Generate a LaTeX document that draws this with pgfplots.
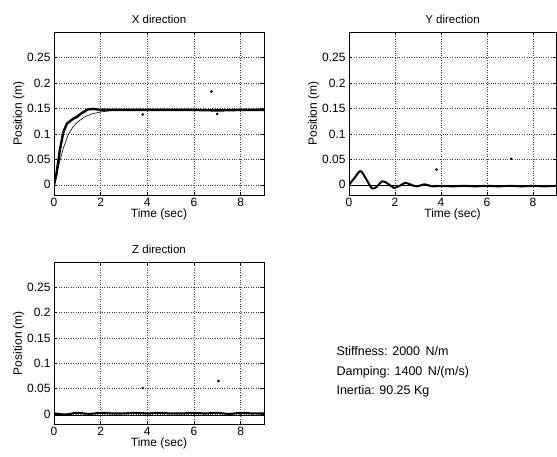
\documentclass[border=0pt]{standalone}
\usepackage{fontspec}
\setmainfont{Liberation Sans}
\usepackage{pgfplots}
\pgfplotsset{compat=1.18}

\pgfplotsset{
  posplot/.style={
    scale only axis,
    anchor=south west,
    xmin=0, xmax=9,
    ymin=-0.02, ymax=0.3,
    xtick={0,2,4,6,8},
    ytick={0,0.05,0.1,0.15,0.2,0.25},
    tick align=inside,
    major tick length=3pt,
    grid=major,
    grid style={dotted, black!75, line width=0.6pt},
    axis line style={line width=0.7pt},
    tick style={black, line width=0.5pt},
    font=\fontsize{12}{14}\selectfont,
    /pgf/number format/assume math mode=true,
    yticklabel style={/pgf/number format/fixed},
    xlabel={Time (sec)},
    ylabel={Position (m)},
    xlabel style={yshift=5pt},
    ylabel style={yshift=-4pt},
    title style={yshift=-1pt, font=\fontsize{11.5}{13}\selectfont},
    clip=true,
  },
  meas/.style={black, line width=2.4pt, line join=round},
  model/.style={black, line width=0.6pt},
  dots/.style={only marks, mark=*, mark size=1.1pt, black},
}

\begin{document}
\begin{tikzpicture}
\useasboundingbox (0pt,0pt) rectangle (557pt,456pt);

% X direction
\begin{axis}[posplot, at={(54pt,261pt)}, width=210pt, height=163pt, title={X direction}]
\addplot[meas] coordinates {
  (0,0) (0.1,0.02) (0.25,0.068) (0.4,0.103) (0.55,0.12) (0.8,0.129)
  (1.0,0.134) (1.2,0.141) (1.45,0.148) (1.7,0.149) (2.0,0.147)
  (3,0.147) (4,0.147) (5,0.147) (6,0.147) (7,0.146) (8,0.147) (9,0.147)
};
\addplot[model] coordinates {
  (0,0) (0.2,0.038) (0.4,0.072) (0.6,0.097) (0.8,0.113) (1.0,0.123)
  (1.3,0.133) (1.6,0.139) (2.0,0.143) (2.5,0.146) (3,0.147) (9,0.147)
};
\addplot[dots] coordinates {(3.8,0.138) (7.0,0.139) (6.75,0.183)};
\end{axis}

% Y direction
\begin{axis}[posplot, at={(349pt,261pt)}, width=207pt, height=163pt, title={Y direction}]
\addplot[model] coordinates {(0,0) (9,0)};
\addplot[meas, line width=2pt, smooth] coordinates {
  (0,0) (0.25,0.014) (0.5,0.027) (0.75,0.011) (1.0,-0.007) (1.2,-0.004)
  (1.45,0.007) (1.7,0.002) (1.95,-0.006) (2.2,-0.002) (2.45,0.004)
  (2.7,0) (2.95,-0.003) (3.3,0.001) (3.6,-0.003) (4.0,-0.002)
  (4.5,-0.003) (5,-0.002) (5.5,-0.003) (6,-0.002) (6.5,-0.003)
  (7,-0.002) (7.5,-0.003) (8,-0.002) (8.5,-0.003) (9,-0.002)
};
\addplot[dots] coordinates {(3.8,0.03) (7.05,0.051)};
\end{axis}

% Z direction
\begin{axis}[posplot, at={(54pt,32pt)}, width=210pt, height=162pt, title={Z direction}]
\addplot[model] coordinates {(0,-0.003) (9,-0.003)};
\addplot[meas, line width=2pt, smooth] coordinates {
  (0,0.001) (0.5,-0.001) (1.0,0.002) (1.5,0) (2.0,0.002) (2.5,0.001)
  (3,0.001) (3.5,0.002) (4,0.001) (4.5,0.002) (5,0.001) (5.5,0.001)
  (6,0.002) (6.5,0.001) (7,0.002) (7.5,0) (8,0.002) (8.5,0.001) (9,0.001)
};
\addplot[dots] coordinates {(3.8,0.051) (7.05,0.065)};
\end{axis}

\node[anchor=west, font=\fontsize{12.5}{19.5}\selectfont, align=left] at (333pt,84pt)
  {Stiffness: 2000\,\ N/m\\ Damping: 1400\,\ N/(m/s)\\ Inertia: 90.25 Kg};
\end{tikzpicture}
\end{document}
